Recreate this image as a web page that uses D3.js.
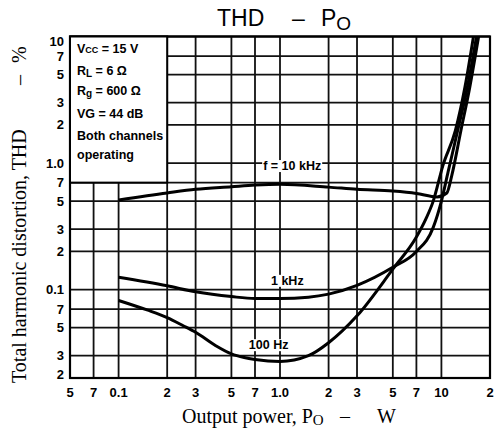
<!DOCTYPE html>
<html>
<head>
<meta charset="utf-8">
<script src="https://cdn.jsdelivr.net/npm/d3@7/dist/d3.min.js"></script>
<style>
    html, body { margin: 0; padding: 0; background: #fff; }
    svg { display: block; }
    .tick-label { font-family: "Liberation Sans", Arial, sans-serif; font-weight: bold; font-size: 13px; fill: #000; }
    .note { font-family: "Liberation Sans", Arial, sans-serif; font-weight: bold; font-size: 12.5px; fill: #000; }
    .axis-title { font-family: "Liberation Serif", "Times New Roman", serif; font-size: 20px; fill: #000; }
</style>
</head>
<body>
<svg id="chart" width="495" height="434"></svg>
<script>
(function() {

// tick values and their printed labels
const xTicks = [0.05, 0.07, 0.1, 0.2, 0.3, 0.5, 0.7, 1, 2, 3, 5, 7, 10, 20];
const xTickLabels = ["5", "7", "0.1", "2", "3", "5", "7", "1.0", "2", "3", "5", "7", "10", "2"];
const yTicks = [10, 7, 5, 3, 2, 1, 0.7, 0.5, 0.3, 0.2, 0.1, 0.07, 0.05, 0.03, 0.02];
const yTickLabels = ["10", "7", "5", "3", "2", "1.0", "7", "5", "3", "2", "0.1", "7", "5", "3", "2"];

// curves, output power (W) vs THD (%)
const power10k = [0.1, 0.2, 0.3, 0.5, 0.7, 1, 2, 3, 5, 7, 9.4, 10.8, 11.6, 13.2, 15, 17];
const thd10k   = [0.51, 0.58, 0.62, 0.65, 0.67, 0.68, 0.645, 0.62, 0.6, 0.575, 0.54, 0.58, 0.8, 1.8, 4, 10];

const power1k = [0.1, 0.2, 0.3, 0.5, 0.7, 1, 1.5, 2, 3, 5, 7, 8.9, 10, 11, 12.6, 14.5, 16.5];
const thd1k   = [0.125, 0.107, 0.096, 0.088, 0.085, 0.085, 0.087, 0.092, 0.108, 0.15, 0.2, 0.31, 0.5, 0.85, 1.8, 4, 10];

const power100 = [0.1, 0.15, 0.2, 0.25, 0.3, 0.4, 0.5, 0.6, 0.7, 1, 1.5, 2, 3, 5, 7, 8, 8.9, 10.2, 12.2, 14, 15.8];
const thd100   = [0.082, 0.069, 0.06, 0.052, 0.046, 0.036, 0.031, 0.029, 0.028, 0.027, 0.03, 0.038, 0.062, 0.145, 0.26, 0.36, 0.5, 0.95, 1.8, 4, 10];

const curveLabels = [
    { text: "f = 10 kHz", p: 1.19, v: 0.88 },
    { text: "1 kHz", p: 1.11, v: 0.109 },
    { text: "100 Hz", p: 0.85, v: 0.0338 }
];

const conditions = ["V|CC = 15 V", "R|L = 6 Ω", "R|g = 600 Ω", "VG = 44 dB", "Both channels", "operating"];

const svg = d3.select("#chart");

const x = d3.scaleLog().domain([0.05, 20]).range([70, 490]);
const y = d3.scaleLog().domain([0.02, 10]).range([378, 36.5]);

drawGrid();
drawConditions();
drawCurves();
drawLabels();

/**
 * grid lines, frame and tick labels
 */

function drawGrid() {
    const grid = svg.append("g").attr("class", "grid");

    grid.selectAll("line.v")
        .data(xTicks)
        .enter().append("line")
        .attr("class", "v")
        .attr("x1", (d) => x(d)).attr("x2", (d) => x(d))
        .attr("y1", y(10)).attr("y2", y(0.02))
        .attr("stroke", "#111")
        .attr("stroke-width", 1.8);

    grid.selectAll("line.h")
        .data(yTicks)
        .enter().append("line")
        .attr("class", "h")
        .attr("y1", (d) => y(d)).attr("y2", (d) => y(d))
        .attr("x1", x(0.05)).attr("x2", x(20))
        .attr("stroke", "#111")
        .attr("stroke-width", 1.8);

    grid.append("rect")
        .attr("x", x(0.05)).attr("y", y(10))
        .attr("width", x(20) - x(0.05))
        .attr("height", y(0.02) - y(10))
        .attr("fill", "none")
        .attr("stroke", "#000")
        .attr("stroke-width", 2.2);

    svg.append("g").selectAll("text")
        .data(xTicks)
        .enter().append("text")
        .attr("class", "tick-label")
        .attr("x", (d) => x(d))
        .attr("y", 397)
        .attr("text-anchor", "middle")
        .text((d, i) => xTickLabels[i]);

    svg.append("g").selectAll("text")
        .data(yTicks)
        .enter().append("text")
        .attr("class", "tick-label")
        .attr("x", 64)
        .attr("y", function(d, i) {
            if (i === 0) { return y(d) + 9; }
            if (i === yTicks.length - 1) { return y(d) + 1; }
            return y(d) + 4.5;
        })
        .attr("text-anchor", "end")
        .text((d, i) => yTickLabels[i]);
}

/**
 * white box with the test conditions, top left
 */

function drawConditions() {
    svg.append("rect")
        .attr("x", x(0.05)).attr("y", y(10))
        .attr("width", x(0.2) - x(0.05))
        .attr("height", y(0.7) - y(10))
        .attr("fill", "#fff")
        .attr("stroke", "#000")
        .attr("stroke-width", 2);

    const baselines = [53, 75, 95, 118, 140, 159];

    conditions.forEach(function(line, i) {
        const parts = line.split("|");
        const t = svg.append("text")
            .attr("class", "note")
            .attr("x", 77)
            .attr("y", baselines[i]);

        if (parts.length === 1) {
            t.text(line);
            return;
        }
        const rest = parts[1].split(" ");
        t.append("tspan").text(parts[0]);
        t.append("tspan")
            .attr("font-size", rest[0] === "CC" ? "9px" : "10px")
            .attr("dy", rest[0] === "CC" ? 0 : 2)
            .text(rest[0]);
        t.append("tspan")
            .attr("dy", rest[0] === "CC" ? 0 : -2)
            .text(" " + rest.slice(1).join(" "));
    });
}

/**
 * the three THD curves
 */

function drawCurves() {
    const line = d3.line()
        .x((d) => x(d[0]))
        .y((d) => y(d[1]))
        .curve(d3.curveMonotoneX);

    const series = [
        d3.zip(power10k, thd10k),
        d3.zip(power1k, thd1k),
        d3.zip(power100, thd100)
    ];

    svg.append("g")
        .attr("class", "curves")
        .selectAll("path")
        .data(series)
        .enter().append("path")
        .attr("d", line)
        .attr("fill", "none")
        .attr("stroke", "#000")
        .attr("stroke-width", 3)
        .attr("stroke-linejoin", "round");
}

/**
 * curve labels, title and axis titles
 */

function drawLabels() {
    curveLabels.forEach(function(d) {
        const g = svg.append("g");
        const t = g.append("text")
            .attr("class", "note")
            .attr("x", x(d.p))
            .attr("y", y(d.v))
            .attr("text-anchor", "middle")
            .text(d.text);
        const b = t.node().getBBox();
        g.insert("rect", "text")
            .attr("x", b.x - 1).attr("y", b.y + 1)
            .attr("width", b.width + 2).attr("height", b.height - 2)
            .attr("fill", "#fff");
    });

    const title = svg.append("text")
        .attr("x", 217)
        .attr("y", 26)
        .attr("font-family", "'Liberation Sans', Arial, sans-serif")
        .attr("font-size", "23px");
    title.append("tspan").text("THD");
    title.append("tspan").attr("x", 292).text("–");
    title.append("tspan").attr("x", 321).text("P");
    title.append("tspan").attr("font-size", "19px").attr("dy", 4).text("O");

    const xt = svg.append("text")
        .attr("class", "axis-title")
        .attr("x", 182)
        .attr("y", 423);
    xt.append("tspan").text("Output power, P");
    xt.append("tspan").attr("font-size", "15px").attr("dy", 2).text("O");
    xt.append("tspan").attr("x", 340).attr("dy", -2).text("–");
    xt.append("tspan").attr("x", 377).text("W");

    const yt = svg.append("text")
        .attr("class", "axis-title")
        .attr("font-size", "21.5px")
        .attr("transform", "translate(26,383) rotate(-90)");
    yt.append("tspan").text("Total harmonic distortion, THD");
    yt.append("tspan").attr("x", 298).text("–");
    yt.append("tspan").attr("x", 320).text("%");
}

})();
</script>
</body>
</html>
